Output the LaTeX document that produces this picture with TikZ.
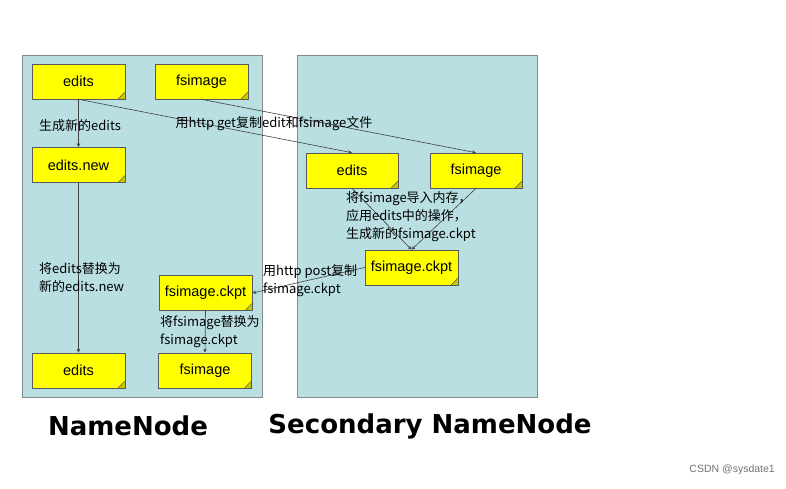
\documentclass[tikz,border=0pt]{standalone}
\usepackage{fontspec}
\setmainfont{Liberation Sans}
\newfontfamily\cjk{Noto Sans CJK SC}
\newfontfamily\boldf{DejaVu Sans}
\usetikzlibrary{arrows.meta}
\definecolor{panel}{HTML}{B9DFE3}
\definecolor{panelborder}{HTML}{7F8C8E}
\definecolor{fileyel}{HTML}{FFFF00}
\definecolor{fold}{HTML}{C8C800}
\tikzset{
  panelbox/.style={draw=panelborder, line width=0.8pt, fill=panel},
  filebox/.style={draw=black!65, line width=0.6pt, fill=fileyel, minimum width=93, minimum height=35,
    inner sep=0pt, font=\fontsize{14.5}{16}\selectfont,
    path picture={
      \fill[fold] ([xshift=-7pt]path picture bounding box.south east) -- ([yshift=7pt]path picture bounding box.south east) -- (path picture bounding box.south east) -- cycle;
      \draw[black!65, line width=0.5pt] ([xshift=-7pt]path picture bounding box.south east) -- ([yshift=7pt]path picture bounding box.south east);
    }},
  lbl/.style={font=\cjk\fontsize{13}{18}\selectfont, inner sep=0pt, align=left},
  conn/.style={draw=black!75, line width=0.6pt, -{Stealth[length=4pt,width=3.5pt]}},
  title/.style={font=\boldf\bfseries\fontsize{26}{30}\selectfont, inner sep=0pt}
}
\begin{document}
\begin{tikzpicture}[x=1pt,y=-1pt]
\useasboundingbox (0,0) rectangle (786,489);
\fill[white] (0,0) rectangle (786,489);
% panels
\draw[panelbox] (22,55) rectangle (262,397);
\draw[panelbox] (297,55) rectangle (537,397);
% files
\node[filebox] (e1) at (78.5,81.5) {edits};
\node[filebox] (f1) at (201.5,81.5) {fsimage};
\node[filebox] (en) at (78.5,165) {edits.new};
\node[filebox] (e2) at (78.5,370.5) {edits};
\node[filebox] (f2) at (205,370.5) {fsimage};
\node[filebox] (ck1) at (205.5,293) {fsimage.ckpt};
\node[filebox, minimum width=92] (e3) at (352,170.5) {edits};
\node[filebox, minimum width=92] (f3) at (476,170.5) {fsimage};
\node[filebox] (ck2) at (411.5,267.5) {fsimage.ckpt};
% connectors
\draw[conn] (e1.south) -- (en.north);
\draw[conn] (en.south) -- (e2.north);
\draw[conn] (e1.south) -- (e3.north);
\draw[conn] (f1.south) -- (f3.north);
\draw[conn] (e3.south) -- (ck2.north);
\draw[conn] (f3.south) -- (ck2.north);
\draw[conn] (ck2.west) -- (ck1.east);
\draw[conn] (ck1.south) -- (f2.north);
% labels
\node[lbl, anchor=west] (l1) at (39,126) {生成新的edits};
\node[lbl, anchor=west] (l2) at (39,277.5) {将edits替换为\\新的edits.new};
\node[lbl, anchor=center] (l3) at (274,124) {用http get复制edit和fsimage文件};
\node[lbl, anchor=west] (l4) at (346,216.5) {将fsimage导入内存，\\应用edits中的操作，\\生成新的fsimage.ckpt};
\node[lbl, anchor=west] (l5) at (263,280.5) {用http post复制\\fsimage.ckpt};
\node[lbl, anchor=west] (l6) at (160,331.5) {将fsimage替换为\\fsimage.ckpt};
% titles
\node[title] (t1) at (128,426) {NameNode};
\node[title] (t2) at (430,426) {Secondary NameNode};
\node[font=\fontsize{10.5}{12}\selectfont, text=black!55, anchor=east, inner sep=0pt] (wm) at (775,470) {CSDN @sysdate1};
\end{tikzpicture}
\end{document}
